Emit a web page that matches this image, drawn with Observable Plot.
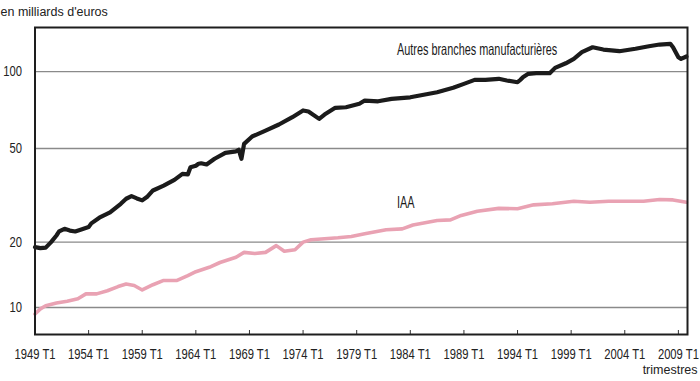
<!DOCTYPE html>
<html><head><meta charset="utf-8">
<script src="https://cdn.jsdelivr.net/npm/d3@7"></script>
<script src="https://cdn.jsdelivr.net/npm/@observablehq/plot@0.6"></script>
<style>body{margin:0;background:#fff}</style>
</head><body><div id="chart"></div>
<script>
// Autres branches manufacturières (milliards d'euros), trimestres
const autresTrim = ["1949T1","1949T3","1950T1","1950T3","1951T1","1951T2","1951T4","1952T2","1952T4","1953T2","1954T1","1954T2","1955T1","1956T1","1957T1","1957T3","1958T1","1958T3","1959T1","1959T3","1960T1","1961T1","1962T1","1962T4","1963T2","1963T3","1964T1","1964T2","1964T3","1965T1","1965T4","1966T4","1967T4","1968T1","1968T2","1968T3","1969T2","1970T3","1971T4","1973T1","1974T1","1974T3","1975T3","1976T1","1977T1","1978T1","1979T2","1979T4","1981T1","1982T2","1984T1","1985T2","1986T3","1988T1","1989T1","1990T1","1991T1","1992T2","1993T1","1994T1","1994T2","1994T3","1995T1","1995T4","1997T1","1997T3","1998T3","1999T2","2000T1","2001T1","2002T1","2003T3","2005T1","2006T2","2007T2","2008T2","2008T3","2009T1","2009T2","2009T4"];
const autresVal = [19.0,18.8,18.9,20.0,21.4,22.3,22.9,22.5,22.3,22.7,23.3,24.2,25.6,27.0,29.4,30.9,31.7,31.0,30.4,31.6,33.5,35.1,37.1,39.3,39.1,41.9,42.5,43.3,43.5,43.0,45.4,48.0,48.7,49.4,45.4,52.2,55.9,59.0,62.4,66.7,70.9,70.2,65.7,68.3,72.6,73.0,75.3,77.5,77.0,78.7,79.8,81.6,83.5,86.8,89.9,93.1,93.1,94.0,92.6,91.2,93.0,95.3,98.2,98.7,98.7,103.4,107.6,111.8,118.4,123.5,121.1,119.4,121.9,124.6,126.4,127.2,123.5,113.4,111.8,114.1];

// IAA
const iaaTrim = ["1949T1","1949T3","1950T1","1951T1","1952T1","1953T1","1953T4","1954T4","1955T4","1956T4","1957T3","1958T2","1959T1","1960T1","1961T1","1962T2","1963T2","1964T1","1965T2","1966T2","1967T4","1968T3","1969T3","1970T3","1971T3","1972T2","1973T2","1974T1","1974T4","1976T1","1977T2","1978T3","1979T4","1981T4","1983T2","1984T2","1986T3","1987T4","1988T4","1990T2","1992T2","1994T1","1995T3","1997T2","1999T2","2000T4","2002T3","2005T4","2007T2","2008T3","2009T4"];
const iaaVal = [9.3,9.85,10.2,10.5,10.7,11.0,11.6,11.6,12.0,12.55,12.9,12.7,12.1,12.8,13.4,13.4,14.1,14.7,15.4,16.2,17.1,18.0,17.8,18.0,19.3,18.2,18.5,20.0,20.5,20.7,20.9,21.2,21.8,22.7,22.9,23.8,24.9,25.05,26.2,27.3,28.1,28.0,29.1,29.4,30.15,29.85,30.15,30.15,30.65,30.55,29.85];

const yTicks = [10, 20, 50, 100];
const xTicks = [1949, 1954, 1959, 1964, 1969, 1974, 1979, 1984, 1989, 1994, 1999, 2004, 2009];
const seriesLabels = ["Autres branches manufacturières", "IAA"];
const labelTrim = ["1982T4", "1982T4"];
const labelVal = [120.6, 29.6];
const yTitle = "en milliards d'euros";
const xTitle = "trimestres";

const q = s => +s.slice(0, 4) + (+s.slice(5) - 1) / 4;
const autres = autresTrim.map((t, i) => ({x: q(t), y: autresVal[i]}));
const iaa = iaaTrim.map((t, i) => ({x: q(t), y: iaaVal[i]}));
const labs = seriesLabels.map((t, i) => ({x: q(labelTrim[i]), y: labelVal[i], text: t}));

const font = "'Liberation Sans', Arial, Helvetica, sans-serif";

const chart = Plot.plot({
  width: 700,
  height: 381,
  marginLeft: 34.5,
  marginRight: 13,
  marginTop: 27,
  marginBottom: 47,
  style: {fontFamily: font, fontSize: "14.4px", color: "#222", background: "#fff", overflow: "visible"},
  x: {domain: [1949, 2009.85], ticks: xTicks, tickFormat: d => `${d} T1`, tickSize: 0, tickPadding: 14, label: null},
  y: {type: "pow", exponent: 0.1, domain: [7.4, 146], ticks: yTicks, tickFormat: d => `${d}`, tickSize: 0, tickPadding: 13, label: null},
  marks: [
    Plot.ruleY(yTicks, {stroke: "#8a8a8a", strokeWidth: 1.3}),
    Plot.ruleX(xTicks, {insetTop: 303, stroke: "#333", strokeWidth: 1}),
    Plot.line(iaa, {x: "x", y: "y", stroke: "#e9a2b3", strokeWidth: 3.6}),
    Plot.line(autres, {x: "x", y: "y", stroke: "#1b1b1b", strokeWidth: 4.2}),
    Plot.frame({stroke: "#1e1e1e", strokeWidth: 2}),
    Plot.text(labs, {x: "x", y: "y", text: "text", textAnchor: "start", fontSize: 16.5, fill: "#1a1a1a"}),
    Plot.text([yTitle], {frameAnchor: "top-left", dx: -34.5, dy: -20, textAnchor: "start", fontSize: 12.5, fill: "#222"}),
    Plot.text([xTitle], {frameAnchor: "bottom-right", dx: 10, dy: 39, textAnchor: "end", fontSize: 12.5, fill: "#222"})
  ]
});
document.getElementById("chart").append(chart);

// Condensed lettering as in the reference (glyphs narrowed, text kept as text)
chart.querySelectorAll("text").forEach(t => {
  const s = t.textContent;
  if (s === yTitle || s === xTitle) return;
  const r = seriesLabels.includes(s) ? 0.66 : 0.78;
  const w = t.getComputedTextLength();
  if (w > 0) {
    t.setAttribute("textLength", (w * r).toFixed(1));
    t.setAttribute("lengthAdjust", "spacingAndGlyphs");
  }
});
</script>
</body></html>
